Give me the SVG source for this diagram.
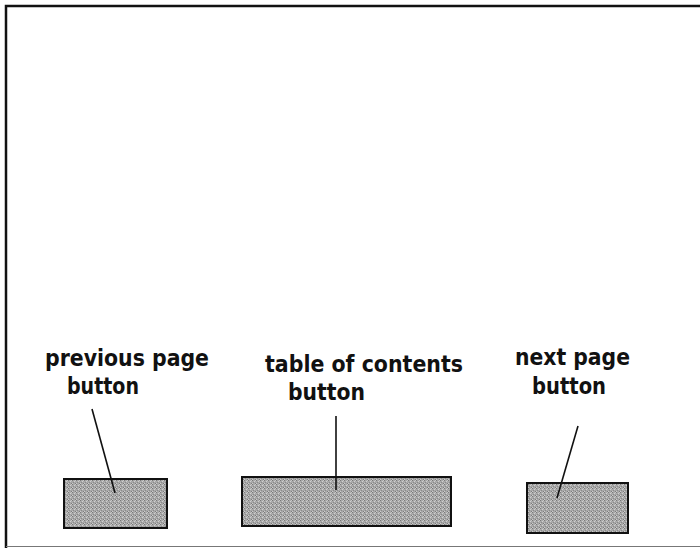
<svg xmlns="http://www.w3.org/2000/svg" width="700" height="548" viewBox="0 0 700 548">
  <style>
    .label { font-family: "DejaVu Sans", "Liberation Sans", sans-serif; font-weight: bold; font-size: 23px; fill: #111; }
    .btn { fill: url(#grain); stroke: #111; stroke-width: 2; }
    .lead { stroke: #111; stroke-width: 1.6; fill: none; }
    .frame { stroke: #111; stroke-width: 2.5; fill: none; }
  </style>
  <defs>
    <!-- dithered grey used for the button faces -->
    <pattern id="grain" width="4" height="4" patternUnits="userSpaceOnUse">
      <rect width="4" height="4" fill="#a8a8a8"/>
      <rect x="0" y="0" width="1" height="1" fill="#7a7a7a"/>
      <rect x="2" y="1" width="1" height="1" fill="#d0d0d0"/>
      <rect x="1" y="2" width="1" height="1" fill="#8a8a8a"/>
      <rect x="3" y="3" width="1" height="1" fill="#7c7c7c"/>
      <rect x="3" y="0" width="1" height="1" fill="#c8c8c8"/>
      <rect x="0" y="3" width="1" height="1" fill="#cccccc"/>
    </pattern>
  </defs>

  <rect width="700" height="548" fill="#fff"/>

  <!-- screen frame -->
  <g id="frame">
    <path class="frame" d="M6,548 V6 H700"/>
    <line x1="6" y1="546.5" x2="700" y2="546.5" stroke="#777" stroke-width="1"/>
  </g>

  <!-- buttons -->
  <g id="prev-button">
    <rect class="btn" x="64" y="479" width="103" height="49"/>
  </g>
  <g id="toc-button">
    <rect class="btn" x="242" y="477" width="209" height="49"/>
  </g>
  <g id="next-button">
    <rect class="btn" x="527" y="483" width="101" height="50"/>
  </g>

  <!-- leader lines -->
  <g id="connectors">
    <line class="lead" x1="92" y1="409" x2="115" y2="493"/>
    <line class="lead" x1="336" y1="416" x2="336" y2="490"/>
    <line class="lead" x1="578" y1="426" x2="557" y2="498"/>
  </g>

  <!-- labels -->
  <g id="prev-label">
    <text class="label" x="45" y="366" textLength="164" lengthAdjust="spacingAndGlyphs">previous page</text>
    <text class="label" x="67" y="394" textLength="72" lengthAdjust="spacingAndGlyphs">button</text>
  </g>
  <g id="toc-label">
    <text class="label" x="265" y="372" textLength="198" lengthAdjust="spacingAndGlyphs">table of contents</text>
    <text class="label" x="288" y="400" textLength="77" lengthAdjust="spacingAndGlyphs">button</text>
  </g>
  <g id="next-label">
    <text class="label" x="515" y="365" textLength="115" lengthAdjust="spacingAndGlyphs">next page</text>
    <text class="label" x="532" y="394" textLength="74" lengthAdjust="spacingAndGlyphs">button</text>
  </g>
</svg>
